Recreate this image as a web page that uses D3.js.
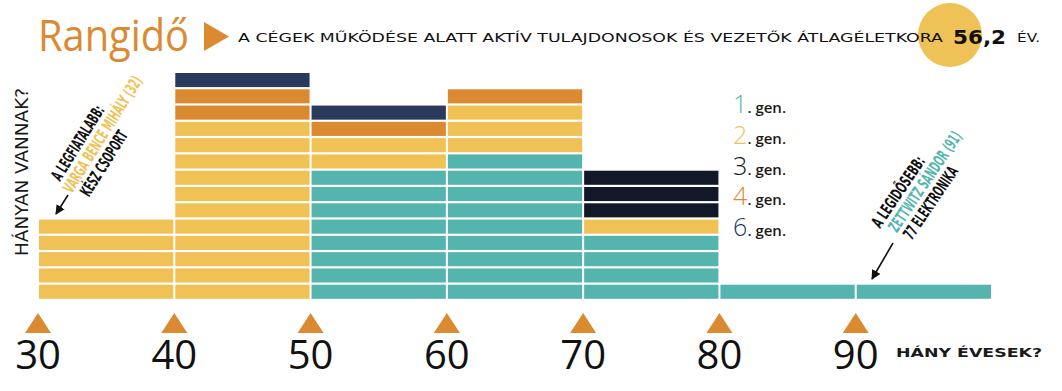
<!DOCTYPE html>
<html><head><meta charset="utf-8">
<script src="https://cdn.jsdelivr.net/npm/d3@7"></script>
<style>body{margin:0;background:#fff}svg{display:block}</style>
</head><body>
<svg id="c" width="1062" height="391"></svg>
<script>
const bins = [30, 40, 50, 60, 70, 80, 90];
const tickLabels = ["30", "40", "50", "60", "70", "80", "90"];
const generations = ["1", "2", "3", "4", "6"];
const gen1 = [0, 0, 8, 9, 4, 1, 1];
const gen2 = [5, 11, 2, 3, 1, 0, 0];
const gen3 = [0, 0, 0, 0, 3, 0, 0];
const gen4 = [0, 2, 1, 1, 0, 0, 0];
const gen6 = [0, 1, 1, 0, 0, 0, 0];
const genColors = ["#54B5AF", "#F0C256", "#111827", "#DC8A31", "#293A5D"];
const averageAge = "56,2";

const series = [gen1, gen2, gen3, gen4, gen6];
const svg = d3.select("#c");
const x = d3.scaleLinear().domain([30, 100]).range([38, 992]);
const y = d3.scaleLinear().domain([0, 14]).range([300, 72]);
const orange = "#DC8A31";

// blocks
const blocks = [];
bins.forEach((b, i) => {
  let level = 0;
  series.forEach((s, g) => {
    for (let k = 0; k < s[i]; k++) {
      blocks.push({bin: b, level: level, gen: g});
      level++;
    }
  });
});
svg.append("g").selectAll("rect").data(blocks).join("rect")
  .attr("x", d => x(d.bin) + 1)
  .attr("width", d => x(d.bin + 10) - x(d.bin) - 2)
  .attr("y", d => y(d.level + 1) + 1)
  .attr("height", d => y(d.level) - y(d.level + 1) - 2.2)
  .attr("fill", d => genColors[d.gen]);

// axis with triangle ticks
const axis = svg.append("g");
axis.selectAll("path").data(bins).join("path")
  .attr("d", d => `M${x(d)-13},333L${x(d)},313L${x(d)+13},333Z`)
  .attr("fill", orange);
axis.selectAll("text").data(bins).join("text")
  .attr("x", d => x(d)).attr("y", 369)
  .attr("text-anchor", "middle")
  .attr("font-family", "Open Sans, sans-serif")
  .attr("font-size", 40)
  .attr("fill", "#111")
  .text((d, i) => tickLabels[i]);

svg.append("text").attr("x", 896).attr("y", 357)
  .attr("font-family", "DejaVu Sans, sans-serif").attr("font-weight", 600)
  .attr("font-size", 12.5).attr("fill", "#1a1a1a")
  .attr("textLength", 146).attr("lengthAdjust", "spacingAndGlyphs")
  .text("HÁNY ÉVESEK?");

// y label
svg.append("text").attr("transform", "translate(28,172) rotate(-90)")
  .attr("text-anchor", "middle")
  .attr("font-family", "DejaVu Sans, sans-serif")
  .attr("font-size", 17).attr("fill", "#1a1a1a")
  .attr("textLength", 168).attr("lengthAdjust", "spacingAndGlyphs")
  .text("HÁNYAN VANNAK?");

// title
svg.append("text").attr("x", 38).attr("y", 51)
  .attr("font-family", "Open Sans, sans-serif").attr("font-size", 43)
  .attr("fill", orange)
  .attr("textLength", 151).attr("lengthAdjust", "spacingAndGlyphs")
  .text("Rangidő");
svg.append("path").attr("d", "M204,22L229,36.5L204,51Z").attr("fill", orange);

svg.append("circle").attr("cx", 950).attr("cy", 35).attr("r", 32).attr("fill", "#EFC257");
svg.append("text").attr("x", 238).attr("y", 42)
  .attr("font-family", "DejaVu Sans, sans-serif").attr("font-size", 12)
  .attr("fill", "#111")
  .attr("textLength", 705).attr("lengthAdjust", "spacingAndGlyphs")
  .text("A CÉGEK MŰKÖDÉSE ALATT AKTÍV TULAJDONOSOK ÉS VEZETŐK ÁTLAGÉLETKORA");
svg.append("text").attr("x", 953).attr("y", 44)
  .attr("font-family", "DejaVu Sans, sans-serif").attr("font-weight", "bold")
  .attr("font-size", 20).attr("fill", "#111")
  .attr("textLength", 53).attr("lengthAdjust", "spacingAndGlyphs")
  .text(averageAge);
svg.append("text").attr("x", 1017).attr("y", 42)
  .attr("font-family", "DejaVu Sans, sans-serif").attr("font-size", 12)
  .attr("fill", "#111")
  .attr("textLength", 23).attr("lengthAdjust", "spacingAndGlyphs")
  .text("ÉV.");

// legend
const lg = svg.append("g").selectAll("text").data(generations).join("text")
  .attr("x", 786).attr("y", (d, i) => 113 + i * 30.8)
  .attr("font-family", "Open Sans, sans-serif");
lg.append("tspan").attr("text-anchor", "end").attr("font-size", 25).attr("font-weight", 300)
  .attr("fill", (d, i) => genColors[i]).text(d => d);
lg.append("tspan").attr("font-size", 15).attr("font-weight", 600).attr("fill", "#1a1a1a")
  .text(". gen.");

// annotations
function annot(tx, ty, ang, lines) {
  const g = svg.append("g").attr("transform", `translate(${tx},${ty}) rotate(${ang})`);
  lines.forEach(l => {
    g.append("text").attr("x", l.u).attr("y", l.v)
      .attr("font-family", "DejaVu Sans Condensed, DejaVu Sans, sans-serif")
      .attr("font-weight", "bold").attr("font-size", 16.5)
      .attr("fill", l.c)
      .attr("textLength", l.len).attr("lengthAdjust", "spacingAndGlyphs")
      .text(l.t);
  });
}
annot(60, 182, -58, [
  {t: "A LEGFIATALABB:", u: 0, v: 0, len: 85, c: "#111"},
  {t: "VARGA BENCE MIHÁLY (32)", u: -4, v: 16.5, len: 134, c: "#F0C256"},
  {t: "KÉSZ CSOPORT", u: 2, v: 33, len: 74, c: "#111"}
]);
annot(880, 229, -56, [
  {t: "A LEGIDŐSEBB:", u: 0, v: 0, len: 82, c: "#111"},
  {t: "ZETTWITZ SÁNDOR (91)", u: 6, v: 16.5, len: 117, c: "#54B5AF"},
  {t: "77 ELEKTRONIKA", u: 8, v: 33, len: 84, c: "#111"}
]);

// arrows
svg.append("defs").append("marker").attr("id", "ah")
  .attr("viewBox", "0 0 10 10").attr("refX", 9).attr("refY", 5)
  .attr("markerWidth", 6).attr("markerHeight", 6).attr("orient", "auto")
  .append("path").attr("d", "M0,0L10,5L0,10Z").attr("fill", "#111");
svg.append("line").attr("x1", 68).attr("y1", 195).attr("x2", 56).attr("y2", 214)
  .attr("stroke", "#111").attr("stroke-width", 1.6).attr("marker-end", "url(#ah)");
svg.append("line").attr("x1", 893).attr("y1", 243).attr("x2", 872).attr("y2", 279)
  .attr("stroke", "#111").attr("stroke-width", 1.6).attr("marker-end", "url(#ah)");
</script>
</body></html>
